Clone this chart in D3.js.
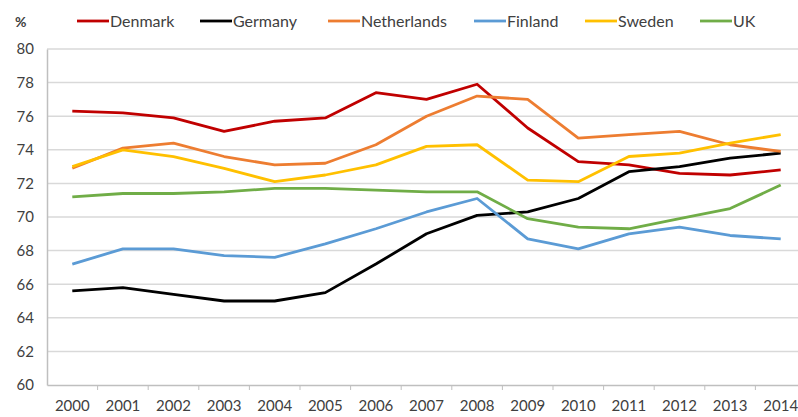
<!doctype html>
<html lang="en">
<head>
<meta charset="UTF-8" />
<title>Employment rate</title>
<script src="https://cdn.jsdelivr.net/npm/d3@7"></script>
<style>
  body { margin: 0; background: #fff; }
  svg { display: block; font-family: Lato, "Open Sans", sans-serif; }
</style>
</head>
<body>
<div id="chart"></div>
<script>
// values
const years = ["2000","2001","2002","2003","2004","2005","2006","2007","2008","2009","2010","2011","2012","2013","2014"];
const seriesNames = ["Denmark", "Germany", "Netherlands", "Finland", "Sweden", "UK"];
const denmark     = [76.3, 76.2, 75.9, 75.1, 75.7, 75.9, 77.4, 77.0, 77.9, 75.3, 73.3, 73.1, 72.6, 72.5, 72.8];
const germany     = [65.6, 65.8, 65.4, 65.0, 65.0, 65.5, 67.2, 69.0, 70.1, 70.3, 71.1, 72.7, 73.0, 73.5, 73.8];
const netherlands = [72.9, 74.1, 74.4, 73.6, 73.1, 73.2, 74.3, 76.0, 77.2, 77.0, 74.7, 74.9, 75.1, 74.3, 73.9];
const finland     = [67.2, 68.1, 68.1, 67.7, 67.6, 68.4, 69.3, 70.3, 71.1, 68.7, 68.1, 69.0, 69.4, 68.9, 68.7];
const sweden      = [73.0, 74.0, 73.6, 72.9, 72.1, 72.5, 73.1, 74.2, 74.3, 72.2, 72.1, 73.6, 73.8, 74.4, 74.9];
const uk          = [71.2, 71.4, 71.4, 71.5, 71.7, 71.7, 71.6, 71.5, 71.5, 69.9, 69.4, 69.3, 69.9, 70.5, 71.9];
const yTicks = [60, 62, 64, 66, 68, 70, 72, 74, 76, 78, 80];

const colors = ["#C00000", "#000000", "#ED7D31", "#5B9BD5", "#FFC000", "#70AD47"];
const allValues = [denmark, germany, netherlands, finland, sweden, uk];

const width = 798, height = 417;
const plotLeft = 47, plotRight = 806, plotTop = 49, plotBottom = 385;
const fontStack = "Lato, 'Open Sans', sans-serif";

const svg = d3.select("#chart").append("svg")
  .attr("width", width)
  .attr("height", height);

const x = d3.scaleBand().domain(years).range([plotLeft, plotRight]);
const y = d3.scaleLinear().domain([60, 80]).range([plotBottom, plotTop]);

// gridlines
svg.append("g")
  .selectAll("line")
  .data(yTicks.slice(1))
  .join("line")
  .attr("x1", plotLeft).attr("x2", plotRight)
  .attr("y1", d => y(d)).attr("y2", d => y(d))
  .attr("stroke", "#D9D9D9")
  .attr("stroke-width", 1.5);

// y axis
const yAxis = svg.append("g")
  .attr("transform", `translate(${plotLeft},0)`)
  .call(d3.axisLeft(y).tickValues(yTicks).tickSize(0).tickPadding(13));
yAxis.select(".domain").attr("stroke", "#BFBFBF").attr("stroke-width", 1.5);
yAxis.selectAll("text").attr("font-size", 15).attr("fill", "#404040")
  .attr("font-family", fontStack);

// x axis
const xAxis = svg.append("g")
  .attr("transform", `translate(0,${plotBottom})`)
  .call(d3.axisBottom(x).tickSize(0).tickPadding(15));
xAxis.select(".domain").attr("stroke", "#BFBFBF").attr("stroke-width", 1.5);
xAxis.selectAll("text").attr("font-size", 15).attr("fill", "#404040")
  .attr("font-family", fontStack);
// category separator ticks
svg.append("g")
  .selectAll("line")
  .data(years.slice(1))
  .join("line")
  .attr("x1", d => x(d)).attr("x2", d => x(d))
  .attr("y1", plotBottom).attr("y2", plotBottom + 5)
  .attr("stroke", "#BFBFBF")
  .attr("stroke-width", 1);

// "%" label
svg.append("text")
  .attr("x", 15).attr("y", 27)
  .attr("font-size", 14).attr("font-weight", "bold").attr("fill", "#404040")
  .text("%");

// lines
const line = d3.line()
  .x((d, i) => x(years[i]) + x.bandwidth() / 2)
  .y(d => y(d));

svg.append("g")
  .selectAll("path")
  .data(allValues)
  .join("path")
  .attr("d", d => line(d))
  .attr("fill", "none")
  .attr("stroke", (d, i) => colors[i])
  .attr("stroke-width", 2.8)
  .attr("stroke-linejoin", "round");

// legend
const legendX = [77, 200, 328, 474, 585, 700];
const legend = svg.append("g");
seriesNames.forEach((name, i) => {
  legend.append("line")
    .attr("x1", legendX[i]).attr("x2", legendX[i] + 32)
    .attr("y1", 21).attr("y2", 21)
    .attr("stroke", colors[i])
    .attr("stroke-width", 2.8);
  legend.append("text")
    .attr("x", legendX[i] + 33).attr("y", 27)
    .attr("font-size", 16).attr("fill", "#404040")
    .attr("font-family", fontStack)
    .text(name);
});
</script>
</body>
</html>
